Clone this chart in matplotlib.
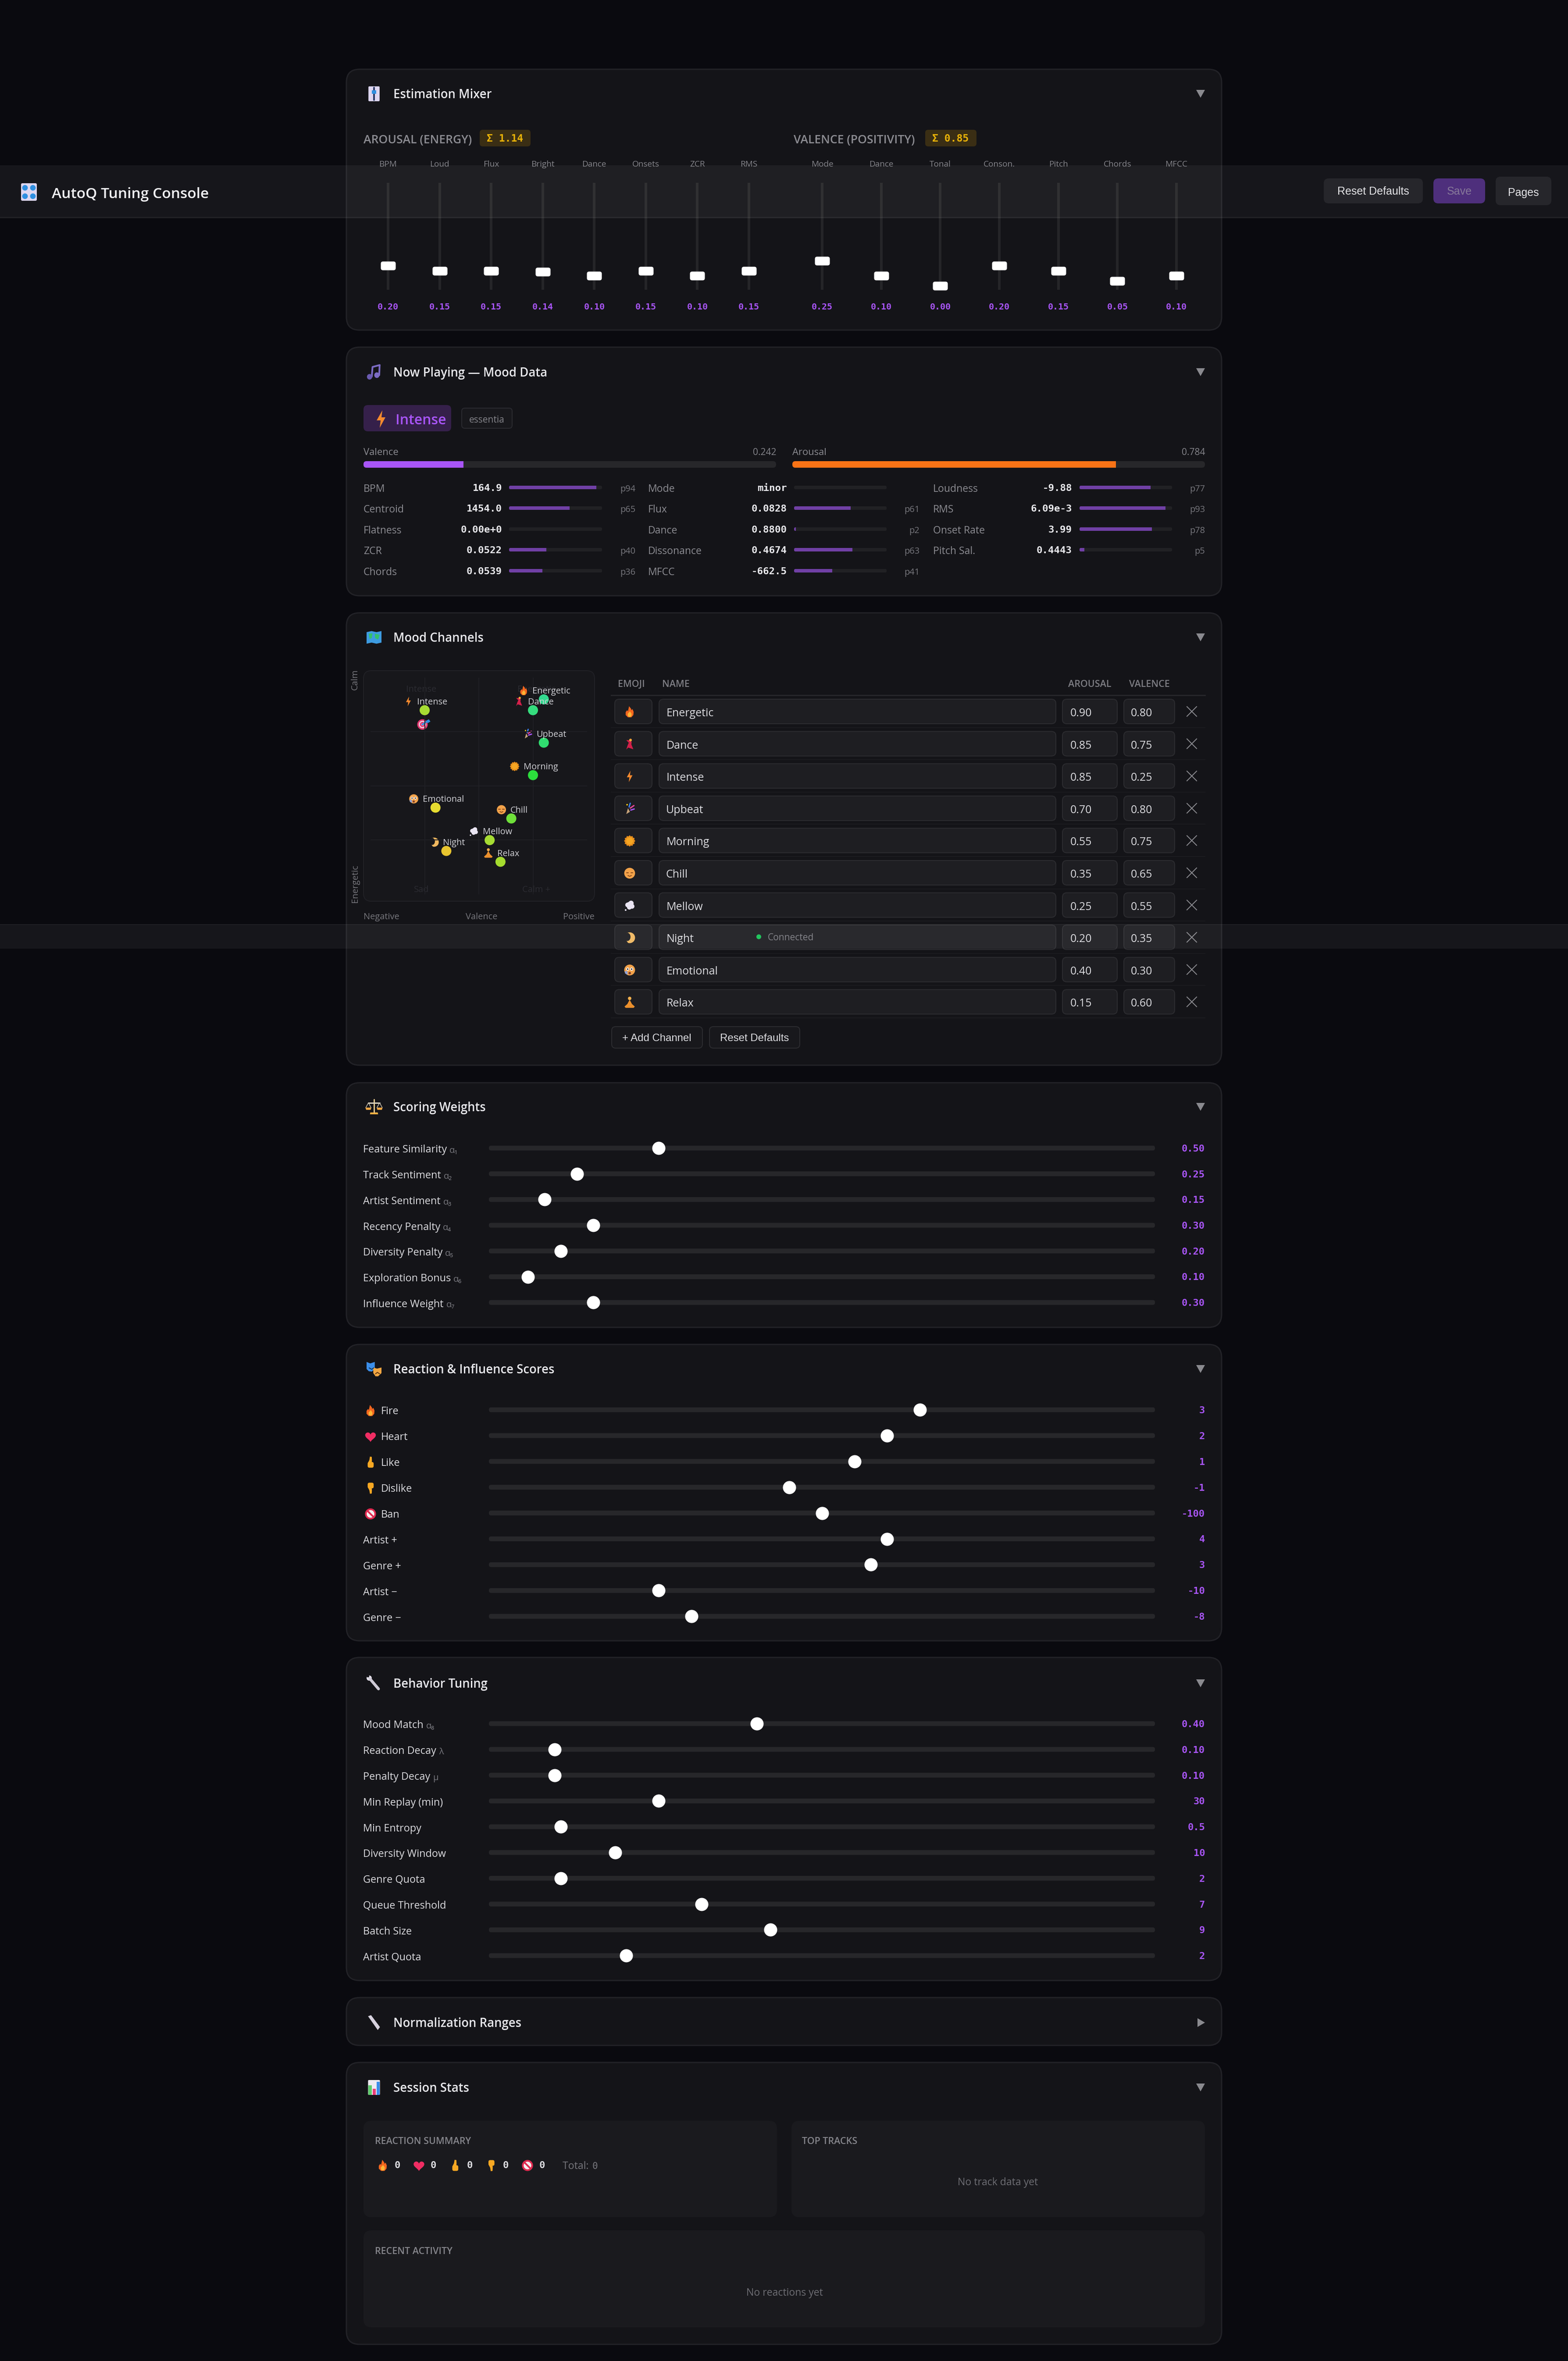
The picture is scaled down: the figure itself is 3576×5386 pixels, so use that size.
import numpy as np
import matplotlib
matplotlib.use('Agg')
import matplotlib.pyplot as plt
from matplotlib.patches import FancyBboxPatch, Rectangle, Circle, Polygon, Ellipse
from matplotlib.transforms import blended_transform_factory
from matplotlib.markers import MarkerStyle

# ---------- DATA ----------
arousal_labels = ['BPM', 'Loud', 'Flux', 'Bright', 'Dance', 'Onsets', 'ZCR', 'RMS']
arousal_weights = [0.20, 0.15, 0.15, 0.14, 0.10, 0.15, 0.10, 0.15]
valence_labels = ['Mode', 'Dance', 'Tonal', 'Conson.', 'Pitch', 'Chords', 'MFCC']
valence_weights = [0.25, 0.10, 0.00, 0.20, 0.15, 0.05, 0.10]
arousal_sum = '1.14'
valence_sum = '0.85'

current_mood = 'Intense'
current_valence = 0.242
current_arousal = 0.784

feat_col1 = ['BPM', 'Centroid', 'Flatness', 'ZCR', 'Chords']
feat_val1 = ['164.9', '1454.0', '0.00e+0', '0.0522', '0.0539']
feat_pct1 = [94, 65, None, 40, 36]
feat_col2 = ['Mode', 'Flux', 'Dance', 'Dissonance', 'MFCC']
feat_val2 = ['minor', '0.0828', '0.8800', '0.4674', '-662.5']
feat_pct2 = [None, 61, 2, 63, 41]
feat_col3 = ['Loudness', 'RMS', 'Onset Rate', 'Pitch Sal.']
feat_val3 = ['-9.88', '6.09e-3', '3.99', '0.4443']
feat_pct3 = [77, 93, 78, 5]

mood_names = ['Energetic', 'Dance', 'Intense', 'Upbeat', 'Morning', 'Chill', 'Mellow', 'Night', 'Emotional', 'Relax']
mood_arousal = [0.90, 0.85, 0.85, 0.70, 0.55, 0.35, 0.25, 0.20, 0.40, 0.15]
mood_valence = [0.80, 0.75, 0.25, 0.80, 0.75, 0.65, 0.55, 0.35, 0.30, 0.60]
mood_colors = ['#33d98f', '#35dd7e', '#a6dc33', '#30dd70', '#2cdc3c', '#6fe03a', '#a6dc33', '#e8c52f', '#e6dc30', '#a5dc2e']
mood_icons = ['flame', 'dancer', 'bolt', 'popper', 'sun', 'chill', 'bubble', 'moon', 'cry', 'relax']

score_labels = ['Feature Similarity', 'Track Sentiment', 'Artist Sentiment', 'Recency Penalty', 'Diversity Penalty', 'Exploration Bonus', 'Influence Weight']
score_subs = ['α₁', 'α₂', 'α₃', 'α₄', 'α₅', 'α₆', 'α₇']
score_values = [0.50, 0.25, 0.15, 0.30, 0.20, 0.10, 0.30]
score_text = ['0.50', '0.25', '0.15', '0.30', '0.20', '0.10', '0.30']
score_min = [0, 0, 0, 0, 0, 0, 0]
score_max = [2, 2, 2, 2, 2, 2, 2]

react_labels = ['Fire', 'Heart', 'Like', 'Dislike', 'Ban', 'Artist +', 'Genre +', 'Artist −', 'Genre −']
react_icons = ['flame', 'heart', 'up', 'down', 'ban', None, None, None, None]
react_values = [3, 2, 1, -1, -100, 4, 3, -10, -8]
react_min = [-10, -10, -10, -10, -200, -20, -20, -20, -20]
react_max = [10, 10, 10, 10, 0, 20, 20, 20, 20]

behav_labels = ['Mood Match', 'Reaction Decay', 'Penalty Decay', 'Min Replay (min)', 'Min Entropy', 'Diversity Window', 'Genre Quota', 'Queue Threshold', 'Batch Size', 'Artist Quota']
behav_subs = ['α₈', 'λ', 'μ', None, None, None, None, None, None, None]
behav_values = [0.40, 0.10, 0.10, 30, 0.5, 10, 2, 7, 9, 2]
behav_text = ['0.40', '0.10', '0.10', '30', '0.5', '10', '2', '7', '9', '2']
behav_min = [0, 0.01, 0.01, 0, 0, 1, 0, 1, 1, 0]
behav_max = [1, 1, 1, 120, 5, 50, 20, 20, 20, 10]

reaction_counts = [0, 0, 0, 0, 0]
reaction_kinds = ['flame', 'heart', 'up', 'down', 'ban']

# ---------- STYLE ----------
W, H = 3576, 5386
BG = '#0a0a0f'
CARD = '#141418'
EDGE = '#222227'
TRACK = '#27272a'
PURPLE = '#a855f7'
MAIN = ['Open Sans', 'Noto Sans', 'DejaVu Sans']
MONO = ['DejaVu Sans Mono']
plt.rcParams['font.family'] = MAIN

fig = plt.figure(figsize=(W / 100, H / 100), dpi=100, facecolor=BG)
page = fig.add_axes([0, 0, 1, 1], zorder=0)
page.set_xlim(0, W); page.set_ylim(H, 0); page.axis('off')
top = fig.add_axes([0, 0, 1, 1], zorder=5)
top.set_xlim(0, W); top.set_ylim(H, 0); top.axis('off'); top.patch.set_alpha(0)
renderer = fig.canvas.get_renderer()


def pt(px):
    return px * 0.72


def txt(x, y, s, px, color='#d4d4d8', ha='left', family=None, weight='normal', ax=None, rot=0, z=3):
    ax = ax or page
    return ax.text(x, y + 0.36 * px if rot == 0 else y, s, fontsize=pt(px), color=color, ha=ha,
                   va='baseline' if rot == 0 else 'center', family=family or MAIN,
                   fontweight=weight, rotation=rot, zorder=z)


def rbox(x0, y0, x1, y1, r, fc, ec='none', lw=2, ax=None, z=1, alpha=None):
    ax = ax or page
    p = FancyBboxPatch((x0, y0), x1 - x0, y1 - y0, boxstyle=f'round,pad=0,rounding_size={r}',
                       fc=fc, ec=ec, lw=pt(lw), zorder=z, alpha=alpha)
    ax.add_patch(p)
    return p


def data_axes(x0, x1, y0, y1, xlim=(0, 1), ylim=(0, 1), z=1):
    a = fig.add_axes([x0 / W, 1 - y1 / H, (x1 - x0) / W, (y1 - y0) / H], zorder=z)
    a.set_xlim(*xlim); a.set_ylim(*ylim); a.axis('off'); a.patch.set_alpha(0)
    return a


# ---------- ICONS (no colour emoji font is installed) ----------
def P(ax, cx, cy, s, pts, c, z=4):
    ax.add_patch(Polygon([(cx + a * s, cy + b * s) for a, b in pts], closed=True, fc=c, ec='none', zorder=z))


def C(ax, cx, cy, r, c, z=4, ec='none', lw=0):
    ax.add_patch(Circle((cx, cy), r, fc=c, ec=ec, lw=lw, zorder=z))


def L(ax, xs, ys, c, w, z=5):
    ax.plot(xs, ys, color=c, lw=pt(w), zorder=z, solid_capstyle='round')


def icon(name, ax, x, y, s):
    if name == 'flame':
        P(ax, x, y, s, [(-.1, -1), (.25, -.55), (.3, -.3), (.5, -.5), (.7, .0), (.65, .55), (.3, .95), (-.3, .95), (-.7, .55), (-.7, .05), (-.45, -.3), (-.3, -.1)], '#f4661e')
        P(ax, x, y, s, [(.05, -.1), (.35, .35), (.3, .75), (0, .92), (-.3, .75), (-.35, .35)], '#fbb636', z=5)
    elif name == 'dancer':
        P(ax, x, y, s, [(.05, -.7), (.35, -.4), (.3, .05), (.65, .9), (-.25, .6), (-.6, .95), (-.35, .2), (-.15, -.25), (-.6, -.7)], '#d3204a')
        C(ax, x + .15 * s, y - .72 * s, .24 * s, '#f2a33a', z=5)
    elif name == 'bolt':
        P(ax, x, y, s, [(.15, -1), (-.5, .15), (-.05, .15), (-.15, 1), (.5, -.2), (.05, -.2)], '#f68a2e')
    elif name == 'popper':
        P(ax, x, y, s, [(-.6, .95), (.05, .55), (-.3, -.1)], '#c6a279')
        L(ax, [x - .1 * s, x + .1 * s], [y - .3 * s, y - .95 * s], '#3b82f6', 3)
        L(ax, [x + .1 * s, x + .75 * s], [y - .1 * s, y - .55 * s], '#ec4899', 3)
        L(ax, [x + .2 * s, x + .8 * s], [y + .25 * s, y + .05 * s], '#a855f7', 3)
        C(ax, x - .45 * s, y - .7 * s, .14 * s, '#facc15', z=5)
    elif name == 'sun':
        a = np.linspace(0, 2 * np.pi, 25)[:-1]
        r = np.where(np.arange(24) % 2 == 0, 1.0, .82)
        P(ax, x, y, s, list(zip(r * np.cos(a), r * np.sin(a))), '#e88f1c')
        C(ax, x, y, .6 * s, '#f5a623', z=5)
    elif name in ('chill', 'cry'):
        C(ax, x, y, .95 * s, '#f2a24a')
        if name == 'chill':
            L(ax, [x - .55 * s, x - .2 * s], [y - .1 * s, y - .1 * s], '#8a4b1c', 2)
            L(ax, [x + .2 * s, x + .55 * s], [y - .1 * s, y - .1 * s], '#8a4b1c', 2)
            L(ax, [x - .3 * s, x, x + .3 * s], [y + .4 * s, y + .55 * s, y + .4 * s], '#8a4b1c', 2)
        else:
            C(ax, x - .35 * s, y - .15 * s, .28 * s, '#f5f5f5', z=5)
            C(ax, x + .35 * s, y - .15 * s, .28 * s, '#f5f5f5', z=5)
            C(ax, x - .35 * s, y - .15 * s, .13 * s, '#3a2a20', z=6)
            C(ax, x + .35 * s, y - .15 * s, .13 * s, '#3a2a20', z=6)
            C(ax, x, y + .55 * s, .22 * s, '#7a3b2a', z=5)
            P(ax, x, y, s, [(-.85, .2), (-.4, .2), (-.35, .85), (-.8, .6)], '#8aa0d8', z=6)
    elif name == 'bubble':
        for dx, dy, r in [(-.35, -.1, .42), (.25, -.4, .45), (.42, .15, .42), (-.05, .3, .42), (0, -.1, .55)]:
            C(ax, x + dx * s, y + dy * s, r * s, '#e9e4f2')
        C(ax, x - .7 * s, y + .8 * s, .15 * s, '#e9e4f2')
    elif name == 'moon':
        t = np.linspace(-np.pi / 2 - .4, np.pi / 2 + .3, 24)
        outer = [(np.cos(v) * .95, np.sin(v) * .95) for v in t]
        inner = [(.55 * np.cos(v) - .4, .72 * np.sin(v) - .15) for v in t[::-1]]
        P(ax, x, y, s, outer + inner, '#f0b860')
    elif name == 'relax':
        P(ax, x, y, s, [(0, -.45), (.4, .3), (.9, .75), (.7, .98), (-.7, .98), (-.9, .75), (-.4, .3)], '#ea8f2d')
        C(ax, x, y - .68 * s, .3 * s, '#f5b04e', z=5)
    elif name == 'heart':
        t = np.linspace(0, 2 * np.pi, 40)
        hx = 16 * np.sin(t) ** 3 / 17
        hy = -(13 * np.cos(t) - 5 * np.cos(2 * t) - 2 * np.cos(3 * t) - np.cos(4 * t)) / 17
        P(ax, x, y, s, list(zip(hx, hy)), '#f02d63')
    elif name in ('up', 'down'):
        k = 1 if name == 'up' else -1
        y0, y1 = sorted([y - k * .05 * s, y + k * .95 * s])
        rbox(x - .5 * s, y0, x + .55 * s, y1, 4, '#f7a823', ax=ax, z=4)
        P(ax, x, y, s, [(-.45, k * .1), (-.2, k * -.4), (-.1, k * -1), (.22, k * -.95), (.25, k * -.3), (.2, k * .1)], '#f7a823')
    elif name == 'ban':
        C(ax, x, y, .82 * s, '#f5eef0', z=4, ec='#e0294f', lw=pt(.3 * s))
        L(ax, [x - .55 * s, x + .55 * s], [y - .55 * s, y + .55 * s], '#e0294f', .3 * s)
    elif name == 'dart':
        for r, c in [(1, '#e0356f'), (.72, '#f4c6d5'), (.48, '#e0356f'), (.22, '#f4c6d5')]:
            C(ax, x, y, r * s, c)
        L(ax, [x, x + s], [y, y - .7 * s], '#2f8fe0', 4, z=6)
        P(ax, x, y, s, [(.6, -.55), (1.2, -1.0), (1.5, -.55), (1.0, -.25)], '#2f8fe0', z=6)
    elif name == 'map':
        P(ax, x, y, s, [(-1, -.7), (-.33, -.85), (.33, -.7), (1, -.85), (1, .7), (.33, .85), (-.33, .7), (-1, .85)], '#3d9be0')
        P(ax, x, y, s, [(-.7, -.5), (-.2, -.55), (-.3, .1), (-.6, .2)], '#35c06a', z=5)
        P(ax, x, y, s, [(.1, -.5), (.75, -.35), (.55, .3), (.15, .1)], '#35c06a', z=5)
    elif name == 'scales':
        L(ax, [x, x], [y - s, y + .7 * s], '#e0c48a', 3)
        L(ax, [x - .75 * s, x + .75 * s], [y - .55 * s, y - .55 * s], '#d9d2c0', 3)
        for d in (-.75, .75):
            P(ax, x, y, s, [(d - .4, .1), (d + .4, .1), (d + .3, .4), (d - .3, .4)], '#f2a742')
            L(ax, [x + (d - .35) * s, x + d * s, x + (d + .35) * s], [y + .1 * s, y - .55 * s, y + .1 * s], '#cfc7b5', 1.5)
        P(ax, x, y, s, [(-.5, .75), (.5, .75), (.55, 1), (-.55, 1)], '#f5b041')
    elif name == 'masks':
        P(ax, x, y, s, [(-1, -.95), (-.5, -.75), (.1, -.95), (.1, .0), (-.3, .35), (-.7, .3), (-1, 0)], '#3b8eea')
        P(ax, x, y, s, [(-.1, -.2), (.4, -.05), (1, -.2), (1, .55), (.55, .98), (.2, .98), (-.1, .55)], '#f2a742', z=5)
        L(ax, [x - .65 * s, x - .3 * s, x - .05 * s], [y - .15 * s, y + .05 * s, y - .15 * s], '#12324f', 2)
        L(ax, [x + .2 * s, x + .45 * s, x + .75 * s], [y + .65 * s, y + .45 * s, y + .65 * s], '#5a3414', 2, z=6)
    elif name == 'wrench':
        L(ax, [x - .55 * s, x + .6 * s], [y - .6 * s, y + .75 * s], '#cfcbd6', .38 * s)
        C(ax, x - .65 * s, y - .7 * s, .35 * s, '#e4e0ea')
        C(ax, x - .8 * s, y - .95 * s, .16 * s, CARD, z=5)
    elif name == 'ruler':
        P(ax, x, y, s, [(-.8, -.85), (-.4, -1), (.8, .6), (.5, 1.0)], '#d7d2de')
    elif name == 'chart':
        rbox(x - .8 * s, y - s, x + .8 * s, y + s, 2, '#eeeaf2', ax=ax, z=4)
        P(ax, x, y, s, [(-.75, -.3), (-.3, -.3), (-.3, 1), (-.75, 1)], '#5ecb6b', z=5)
        P(ax, x, y, s, [(-.2, .15), (.25, .15), (.25, 1), (-.2, 1)], '#e83e76', z=5)
        P(ax, x, y, s, [(.35, -.75), (.75, -.75), (.75, 1), (.35, 1)], '#3b8eea', z=5)
    elif name == 'music':
        L(ax, [x - .3 * s, x - .2 * s, x + .75 * s], [y + .6 * s, y - .7 * s, y - .95 * s], '#7c6bc4', 4)
        L(ax, [x + .75 * s, x + .7 * s], [y - .95 * s, y + .4 * s], '#7c6bc4', 4)
        ax.add_patch(Ellipse((x - .6 * s, y + .62 * s), .7 * s, .75 * s, fc='#6a5ab0', zorder=5))
        ax.add_patch(Ellipse((x + .38 * s, y + .4 * s), .7 * s, .75 * s, fc='#7c6bc4', zorder=5))
    elif name == 'fader':
        rbox(x - .75 * s, y - s, x + .75 * s, y + s, 2, '#ddd6f0', ax=ax, z=4)
        L(ax, [x, x], [y - .8 * s, y + .8 * s], '#2a3a66', 4)
        P(ax, x, y, s, [(-.28, -.5), (.28, -.5), (.28, 0), (-.28, 0)], '#2f8fe0', z=6)
    elif name == 'knobs':
        rbox(x - .9 * s, y - s, x + .9 * s, y + s, 3, '#ddd6f0', ax=ax, z=6)
        for dx in (-.45, .45):
            for dy in (-.48, .48):
                C(ax, x + dx * s, y + dy * s, .32 * s, '#2f8fe0', z=7)


# ---------- CARDS ----------
CX0, CX1 = 790, 2786


def section(y0, y1, title, ic, ty, open_=True, title_px=27.5):
    rbox(CX0, y0, CX1, y1, 30, CARD, EDGE, 3)
    icon(ic, page, 853, ty, 17)
    txt(897, ty, title, title_px, '#e8e8ec', weight='semibold')
    if open_:
        page.add_patch(Polygon([(2728, ty - 9), (2748, ty - 9), (2738, ty + 9)], fc='#8a8a8f', zorder=3))
    else:
        page.add_patch(Polygon([(2731, ty - 10), (2748, ty), (2731, ty + 10)], fc='#8a8a8f', zorder=3))


section(158, 753, 'Estimation Mixer', 'fader', 214)
section(792, 1359, 'Now Playing — Mood Data', 'music', 849)
section(1398, 2430, 'Mood Channels', 'map', 1454)
section(2470, 3028, 'Scoring Weights', 'scales', 2525)
section(3067, 3743, 'Reaction & Influence Scores', 'masks', 3123)
section(3781, 4518, 'Behavior Tuning', 'wrench', 3840)
section(4557, 4666, 'Normalization Ranges', 'ruler', 4614, open_=False)
section(4705, 5348, 'Session Stats', 'chart', 4762)


# ---------- ESTIMATION MIXER ----------
thumb_path = FancyBboxPatch((-17, -10), 34, 20, boxstyle='round,pad=0,rounding_size=5').get_path()


def fader_group(x0, x1, labels, values):
    a = data_axes(x0, x1, 424, 652, xlim=(0, len(labels) - 1))
    xs = np.arange(len(labels))
    a.vlines(xs, -0.04, 1.03, color='#252528', lw=pt(6), clip_on=False, zorder=1)
    a.plot(xs, values, ls='none', marker=MarkerStyle(thumb_path), ms=pt(34), mfc='white', mec='none', clip_on=False, zorder=2)
    tr = blended_transform_factory(a.transData, page.transData)
    for i, (lab, v) in enumerate(zip(labels, values)):
        a.text(i, 373 + 7, lab, transform=tr, ha='center', va='baseline', fontsize=pt(19), color='#85858b', family=MAIN)
        a.text(i, 699 + 7, f'{v:.2f}', transform=tr, ha='center', va='baseline', fontsize=pt(20), color=PURPLE, family=MONO, fontweight='bold')


txt(829, 317, 'AROUSAL (ENERGY)', 26.5, '#8c8c92', weight='semibold')
rbox(1094, 296, 1210, 334, 7, '#3a2e14')
txt(1152, 315, f'Σ {arousal_sum}', 23, '#eab308', ha='center', family=MONO, weight='bold')
txt(1810, 317, 'VALENCE (POSITIVITY)', 26.5, '#8c8c92', weight='semibold')
rbox(2110, 296, 2227, 334, 7, '#3a2e14')
txt(2168, 315, f'Σ {valence_sum}', 23, '#eab308', ha='center', family=MONO, weight='bold')
fader_group(885, 1708, arousal_labels, arousal_weights)
fader_group(1875, 2683, valence_labels, valence_weights)

# ---------- NOW PLAYING ----------
rbox(829, 924, 1029, 984, 10, '#35204a')
icon('bolt', page, 869, 956, 20)
txt(902, 956, current_mood, 32, PURPLE, weight='semibold')
rbox(1053, 931, 1168, 977, 7, '#18181c', '#2a2a30', 2)
txt(1110, 956, 'essentia', 21, '#85858b', ha='center')


def big_bar(x0, x1, value, color, label):
    txt(x0, 1030, label, 22, '#8c8c92')
    txt(x1, 1030, f'{value:.3f}', 21, '#85858b', ha='right')
    tr = rbox(x0, 1052, x1, 1067, 7, TRACK)
    a = data_axes(x0, x1, 1052, 1067, ylim=(-.5, .5))
    b = a.barh([0], [value], height=1, color=color)
    for r in b:
        r.set_clip_path(tr)


big_bar(829, 1770, current_valence, PURPLE, 'Valence')
big_bar(1807, 2748, current_arousal, '#f97316', 'Arousal')

row_y = [1112, 1159, 1207, 1254, 1302]


def feat_col(lx, vx, b0, b1, px, names, vals, pcts):
    for y, n, v, p in zip(row_y, names, vals, pcts):
        txt(lx, y + 2, n, 23, '#8c8c92')
        txt(vx, y, v, 22.5, '#e8e8ec', ha='right', family=MONO, weight='bold')
        tr = rbox(b0, y - 4, b1, y + 4, 3, '#212124')
        if p is not None:
            a = data_axes(b0, b1, y - 4, y + 4, xlim=(0, 100), ylim=(-.5, .5))
            bar = a.barh([0], [p], height=1, color='#7040a5')
            for r in bar:
                r.set_clip_path(tr)
            txt(px, y + 2, f'p{p}', 20, '#77777d', ha='right')


feat_col(829, 1145, 1161, 1373, 1449, feat_col1, feat_val1, feat_pct1)
feat_col(1478, 1795, 1811, 2022, 2097, feat_col2, feat_val2, feat_pct2)
feat_col(2128, 2445, 2462, 2673, 2748, feat_col3, feat_val3, feat_pct3)

# ---------- MOOD MAP ----------
rbox(829, 1530, 1356, 2056, 18, '#17171b', '#212126', 2)
m = data_axes(845, 1339, 1546, 2040)
m.vlines([.25, .5, .75], 0, 1, color='#1f1f24', lw=pt(2), zorder=1)
m.hlines([.25, .5, .75], 0, 1, color='#1f1f24', lw=pt(2), zorder=1)
txt(961, 1571, 'Intense', 20, '#2b2b31', ha='center')
txt(1223, 1571, 'Energetic', 20, '#2b2b31', ha='center')
txt(961, 2028, 'Sad', 20, '#2b2b31', ha='center')
txt(1223, 2028, 'Calm +', 20, '#2b2b31', ha='center')
txt(810, 1550, 'Calm', 20, '#77777d', ha='center', rot=90)
txt(810, 2016, 'Energetic', 20, '#77777d', ha='center', rot=90)
txt(829, 2090, 'Negative', 20, '#77777d')
txt(1098, 2090, 'Valence', 20, '#77777d', ha='center')
txt(1356, 2090, 'Positive', 20, '#77777d', ha='right')

m.scatter(mood_valence, mood_arousal, s=pt(23) ** 2, c=mood_colors, zorder=2, linewidths=0)
to_page = page.transData.inverted()
for n, v, a_, ic in zip(mood_names, mood_valence, mood_arousal, mood_icons):
    t = m.annotate(n, (v, a_), xytext=(pt(17.5), pt(13)), textcoords='offset points', ha='center', va='baseline',
                   fontsize=pt(20), color='#d0d0d5', zorder=3, family=MAIN)
    bb = t.get_window_extent(renderer)
    px, py = to_page.transform(m.transData.transform((v, a_)))
    icon(ic, page, bb.x0 - 20, py - 20, 11)
cx_, cy_ = to_page.transform(m.transData.transform((current_valence, current_arousal)))
icon('dart', page, cx_ - 1, cy_, 12)

# ---------- CHANNEL TABLE ----------
txt(1409, 1559, 'EMOJI', 21.5, '#7d7d83', weight='semibold')
txt(1510, 1559, 'NAME', 21.5, '#7d7d83', weight='semibold')
txt(2485, 1559, 'AROUSAL', 21.5, '#7d7d83', ha='center', weight='semibold')
txt(2621, 1559, 'VALENCE', 21.5, '#7d7d83', ha='center', weight='semibold')
page.plot([1394, 2748], [1586, 1586], color='#26262a', lw=pt(3), zorder=2)
row_h = 73.6
for i, (n, a_, v, ic) in enumerate(zip(mood_names, mood_arousal, mood_valence, mood_icons)):
    y = 1623 + i * row_h
    page.plot([1394, 2748], [y + 36.5, y + 36.5], color='#1b1b1f', lw=pt(2), zorder=2)
    for x0, x1 in [(1402, 1487), (1503, 2408), (2423, 2548), (2563, 2679)]:
        rbox(x0, y - 28, x1, y + 28, 10, '#1e1e22', '#2c2c30', 2)
    icon(ic, page, 1436, y + 1, 13)
    txt(1519, y + 2, n, 25, '#dcdce0')
    txt(2441, y + 2, f'{a_:.2f}', 25, '#dcdce0')
    txt(2579, y + 2, f'{v:.2f}', 25, '#dcdce0')
    page.plot([2707, 2729], [y - 11, y + 11], color='#8a8a8f', lw=pt(2), zorder=3)
    page.plot([2707, 2729], [y + 11, y - 11], color='#8a8a8f', lw=pt(2), zorder=3)

BTN = ['Liberation Sans']
rbox(1395, 2342, 1602, 2391, 9, '#18181c', '#2c2c30', 2)
txt(1498, 2366, '+ Add Channel', 24, '#dcdce0', ha='center', family=BTN)
rbox(1618, 2342, 1824, 2391, 9, '#18181c', '#2c2c30', 2)
txt(1721, 2366, 'Reset Defaults', 24, '#dcdce0', ha='center', family=BTN)


# ---------- SLIDERS ----------
def slider(y, label, value, vmin, vmax, vtext, sub=None, ic=None):
    rbox(1115, y - 5.5, 2634, y + 5.5, 5, TRACK)
    a = data_axes(1130, 2619, y - 15, y + 15, xlim=(vmin, vmax), ylim=(-1, 1))
    a.plot([value], [0], 'o', ms=pt(30), mfc='white', mec='none', clip_on=False)
    lx = 828
    if ic:
        icon(ic, page, 845, y + 2, 13)
        lx = 869
    t = txt(lx, y + 2, label, 23.5, '#dcdce0')
    if sub:
        bb = t.get_window_extent(renderer)
        txt(bb.x1 + 6, y + 4, sub, 20, '#77777d')
    txt(2748, y, vtext, 22, PURPLE, ha='right', family=MONO, weight='bold')


for i in range(len(score_labels)):
    slider(2619 + i * 58.7, score_labels[i], score_values[i], score_min[i], score_max[i], score_text[i], sub=score_subs[i])
for i in range(len(react_labels)):
    slider(3216 + i * 58.9, react_labels[i], react_values[i], react_min[i], react_max[i], str(react_values[i]), ic=react_icons[i])
for i in range(len(behav_labels)):
    slider(3932 + i * 58.8, behav_labels[i], behav_values[i], behav_min[i], behav_max[i], behav_text[i], sub=behav_subs[i])

# ---------- SESSION STATS ----------
rbox(829, 4838, 1772, 5058, 18, '#1a1a1e')
rbox(1805, 4838, 2748, 5058, 18, '#1a1a1e')
rbox(829, 5088, 2748, 5309, 18, '#1a1a1e')
txt(855, 4883, 'REACTION SUMMARY', 21.5, '#85858b', weight='semibold')
txt(1829, 4883, 'TOP TRACKS', 21.5, '#85858b', weight='semibold')
txt(855, 5134, 'RECENT ACTIVITY', 21.5, '#85858b', weight='semibold')
for i, (k, c) in enumerate(zip(reaction_kinds, reaction_counts)):
    icon(k, page, 873 + i * 82.5, 4940, 13)
    txt(906 + i * 82.5, 4938, str(c), 22, '#e0e0e4', ha='center', family=MONO, weight='bold')
t = txt(1283, 4940, 'Total: ', 23, '#77777d')
txt(t.get_window_extent(renderer).x1 + 2, 4940, str(sum(reaction_counts)), 21, '#77777d', family=MONO)
txt(2276, 4977, 'No track data yet', 23, '#6e6e74', ha='center')
txt(1789, 5229, 'No reactions yet', 23, '#6e6e74', ha='center')

# ---------- FIXED OVERLAYS ----------
top.add_patch(Rectangle((0, 377), W, 119, fc='white', alpha=.05, ec='none', zorder=1))
top.plot([0, W], [496, 496], color='white', alpha=.08, lw=pt(3), zorder=1)
icon('knobs', top, 66, 438, 20)
txt(118, 440, 'AutoQ Tuning Console', 33.5, '#f0f0f3', weight='semibold', ax=top)
rbox(3019, 407, 3245, 464, 11, '#26262b', ax=top, z=2)
txt(3132, 435, 'Reset Defaults', 25, '#e4e4e7', ha='center', family=BTN, ax=top)
rbox(3269, 407, 3387, 464, 11, '#4e2f7c', ax=top, z=2)
txt(3328, 435, 'Save', 25, '#87789a', ha='center', family=BTN, ax=top)
rbox(3411, 403, 3538, 468, 11, '#26262b', ax=top, z=2)
txt(3474, 438, 'Pages', 25, '#e4e4e7', ha='center', family=BTN, ax=top)

top.add_patch(Rectangle((0, 2109), W, 55, fc='white', alpha=.05, ec='none', zorder=1))
top.plot([0, W], [2109, 2109], color='white', alpha=.06, lw=pt(2), zorder=1)
top.add_patch(Circle((1730.5, 2137), 5.5, fc='#22c55e', ec='none', zorder=3))
txt(1751, 2137, 'Connected', 21, '#85858b', ax=top)

fig.savefig('out.png', dpi=100, facecolor=BG)
